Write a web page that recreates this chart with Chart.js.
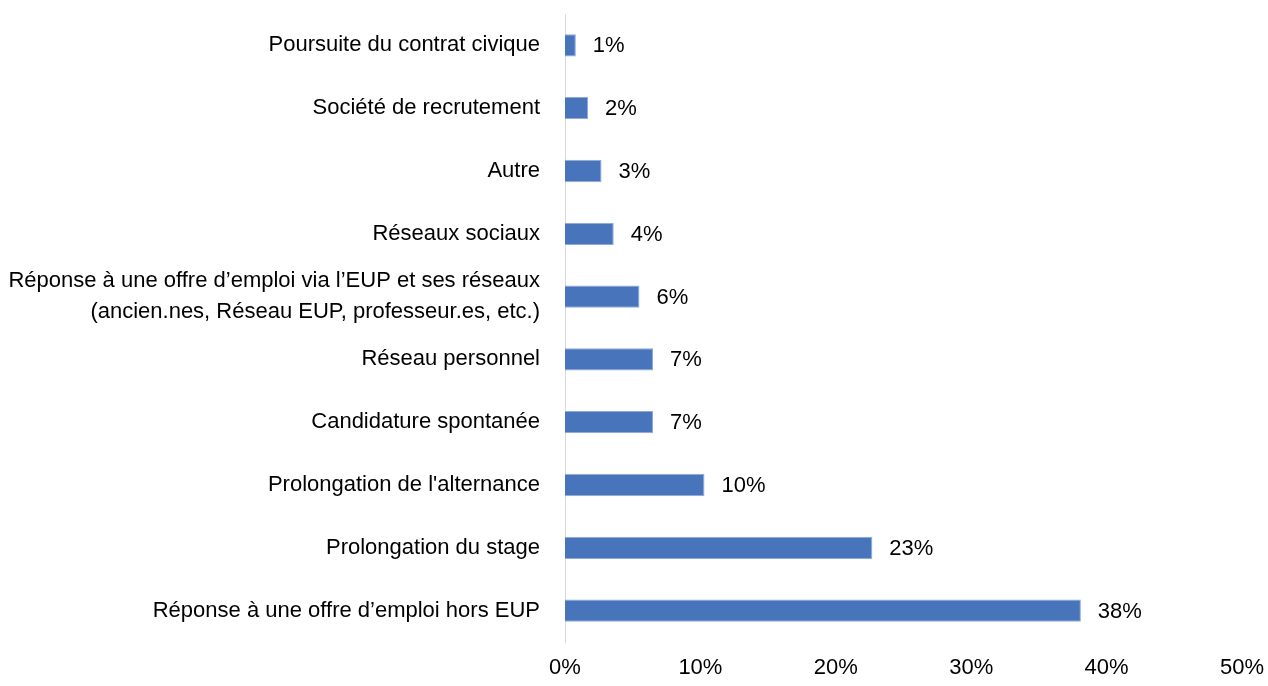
<!DOCTYPE html>
<html>
<head>
<meta charset="utf-8">
<script src="https://cdn.jsdelivr.net/npm/chart.js@4/dist/chart.umd.min.js"></script>
<style>
  html, body { margin: 0; padding: 0; background: #fff; }
  #wrap { width: 1268px; height: 686px; }
</style>
</head>
<body>
<div id="wrap"><canvas id="barChart"></canvas></div>
<script>
const categories = [
  "Poursuite du contrat civique",
  "Société de recrutement",
  "Autre",
  "Réseaux sociaux",
  ["Réponse à une offre d’emploi via l’EUP et ses réseaux", "(ancien.nes, Réseau EUP, professeur.es, etc.)"],
  "Réseau personnel",
  "Candidature spontanée",
  "Prolongation de l'alternance",
  "Prolongation du stage",
  "Réponse à une offre d’emploi hors EUP"
];
const shares = [0.8, 1.7, 2.7, 3.6, 5.5, 6.5, 6.5, 10.3, 22.7, 38.1];
const shareLabels = ["1%", "2%", "3%", "4%", "6%", "7%", "7%", "10%", "23%", "38%"];
const xTicks = [0, 10, 20, 30, 40, 50];

const FONT = "'Liberation Sans', Arial, sans-serif";

// value labels to the right of each bar
const barLabels = {
  id: "barLabels",
  afterDatasetsDraw(chart) {
    const ctx = chart.ctx;
    const meta = chart.getDatasetMeta(0);
    ctx.save();
    ctx.font = `22px ${FONT}`;
    ctx.fillStyle = "#000";
    ctx.textAlign = "left";
    ctx.textBaseline = "middle";
    meta.data.forEach((bar, i) => {
      ctx.fillText(shareLabels[i], bar.x + 17, bar.y + 1);
    });
    ctx.restore();
  }
};

new Chart(document.getElementById("barChart"), {
  type: "bar",
  data: {
    labels: categories,
    datasets: [{
      data: shares,
      backgroundColor: "#4874bb",
      borderColor: "#8eaadb",
      borderWidth: 1,
      barPercentage: 0.355,
      categoryPercentage: 1
    }]
  },
  options: {
    indexAxis: "y",
    responsive: true,
    maintainAspectRatio: false,
    animation: false,
    layout: { padding: { top: 14, right: 26, left: 0, bottom: 0 } },
    plugins: { legend: { display: false }, tooltip: { enabled: false } },
    scales: {
      x: {
        min: 0,
        max: 50,
        afterBuildTicks: s => { s.ticks = xTicks.map(v => ({ value: v })); },
        afterFit: s => {
          s.height = 44;
          s.paddingLeft = 0;
          s.paddingRight = 0;
        },
        grid: { display: false, drawTicks: false },
        border: { display: false },
        ticks: {
          padding: 13,
          color: "#000",
          font: { family: FONT, size: 22 },
          callback: v => v + "%"
        }
      },
      y: {
        afterFit: s => {
          s.width = 565;
          s.paddingTop = 0;
          s.paddingBottom = 0;
        },
        grid: { display: false, drawTicks: false },
        border: { display: true, color: "#d9d9d9", width: 1 },
        ticks: {
          autoSkip: false,
          padding: 25,
          color: "#000",
          font: { family: FONT, size: 22, lineHeight: 1.4 }
        }
      }
    }
  },
  plugins: [barLabels]
});
</script>
</body>
</html>
